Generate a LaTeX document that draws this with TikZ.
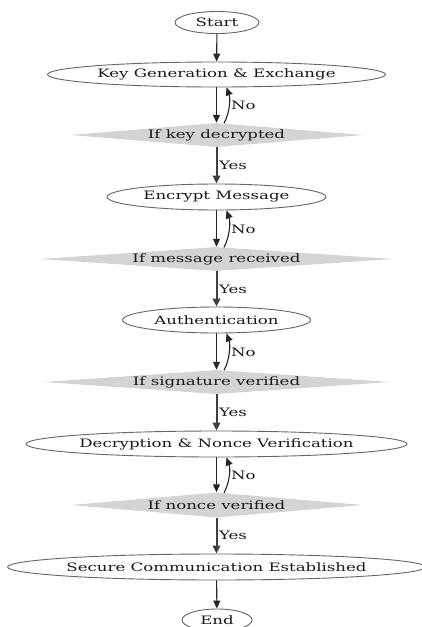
\documentclass[tikz,border=0pt]{standalone}
\usepackage{fontspec}
\setmainfont{DejaVu Serif}
\usepackage{graphicx}
\usetikzlibrary{shapes.geometric,arrows.meta,calc}
\newcommand\wtxt[1]{\makebox[0pt]{\scalebox{1.43}[1]{#1}}}
\newcommand\ltxt[1]{\scalebox{1.43}[1]{#1}}
\tikzset{
  basefont/.style={font=\fontsize{11.6}{13}\selectfont, text=black!90},
  oval/.style={ellipse, draw=black!60, line width=0.9pt, fill=white, inner sep=0pt, basefont},
  dia/.style={diamond, fill=black!17, draw=none, inner sep=0pt, basefont},
  arr/.style={draw=black!85, line width=1.1pt, -{Triangle[length=8pt,width=7pt]}},
  yesarr/.style={draw=black!75, line width=2pt, -{Triangle[length=8pt,width=7.5pt]}},
  lab/.style={basefont, inner sep=0.5pt, anchor=west},
}
\begin{document}
\begin{tikzpicture}[x=1pt,y=-1pt]
\useasboundingbox (0,0) rectangle (422,627);
\node[oval, minimum width=84, minimum height=22] (s) at (217,22.5) {\wtxt{Start}};
\node[oval, minimum width=338, minimum height=25] (k) at (216.5,74.5) {\wtxt{Key Generation \& Exchange}};
\node[dia, minimum width=293, minimum height=24] (d1) at (216.5,135) {\wtxt{If key decrypted}};
\node[oval, minimum width=219, minimum height=26] (e) at (216.5,197) {\wtxt{Encrypt Message}};
\node[dia, minimum width=353, minimum height=24] (d2) at (216.5,259) {\wtxt{If message received}};
\node[oval, minimum width=188, minimum height=26] (a) at (216.5,320) {\wtxt{Authentication}};
\node[dia, minimum width=347, minimum height=24] (d3) at (216.5,382) {\wtxt{If signature verified}};
\node[oval, minimum width=381, minimum height=26] (dn) at (216.5,444) {\wtxt{Decryption \& Nonce Verification}};
\node[dia, minimum width=292, minimum height=25] (d4) at (216.5,505) {\wtxt{If nonce verified}};
\node[oval, minimum width=418, minimum height=26] (sc) at (216.5,567) {\wtxt{Secure Communication Established}};
\node[oval, minimum width=70, minimum height=22] (en) at (217,620) {\wtxt{End}};

\draw[arr] (s) -- (k);
\foreach \u/\d/\n in {k/d1/e, e/d2/a, a/d3/dn, dn/d4/sc}{
  \draw[arr] (\u.south) -- (\d.north);
  \draw[arr] ($(\d.north)+(7.5,0.5)$) .. controls +(6,-11) and +(4,11) .. ($(\u.south)+(10,0)$)
     node[lab, pos=0.5, xshift=1pt] {\ltxt{No}};
  \draw[yesarr] (\d.south) -- (\n.north) node[lab, midway, xshift=1pt] {\ltxt{Yes}};
}
\draw[arr] (sc) -- (en);
\end{tikzpicture}
\end{document}
